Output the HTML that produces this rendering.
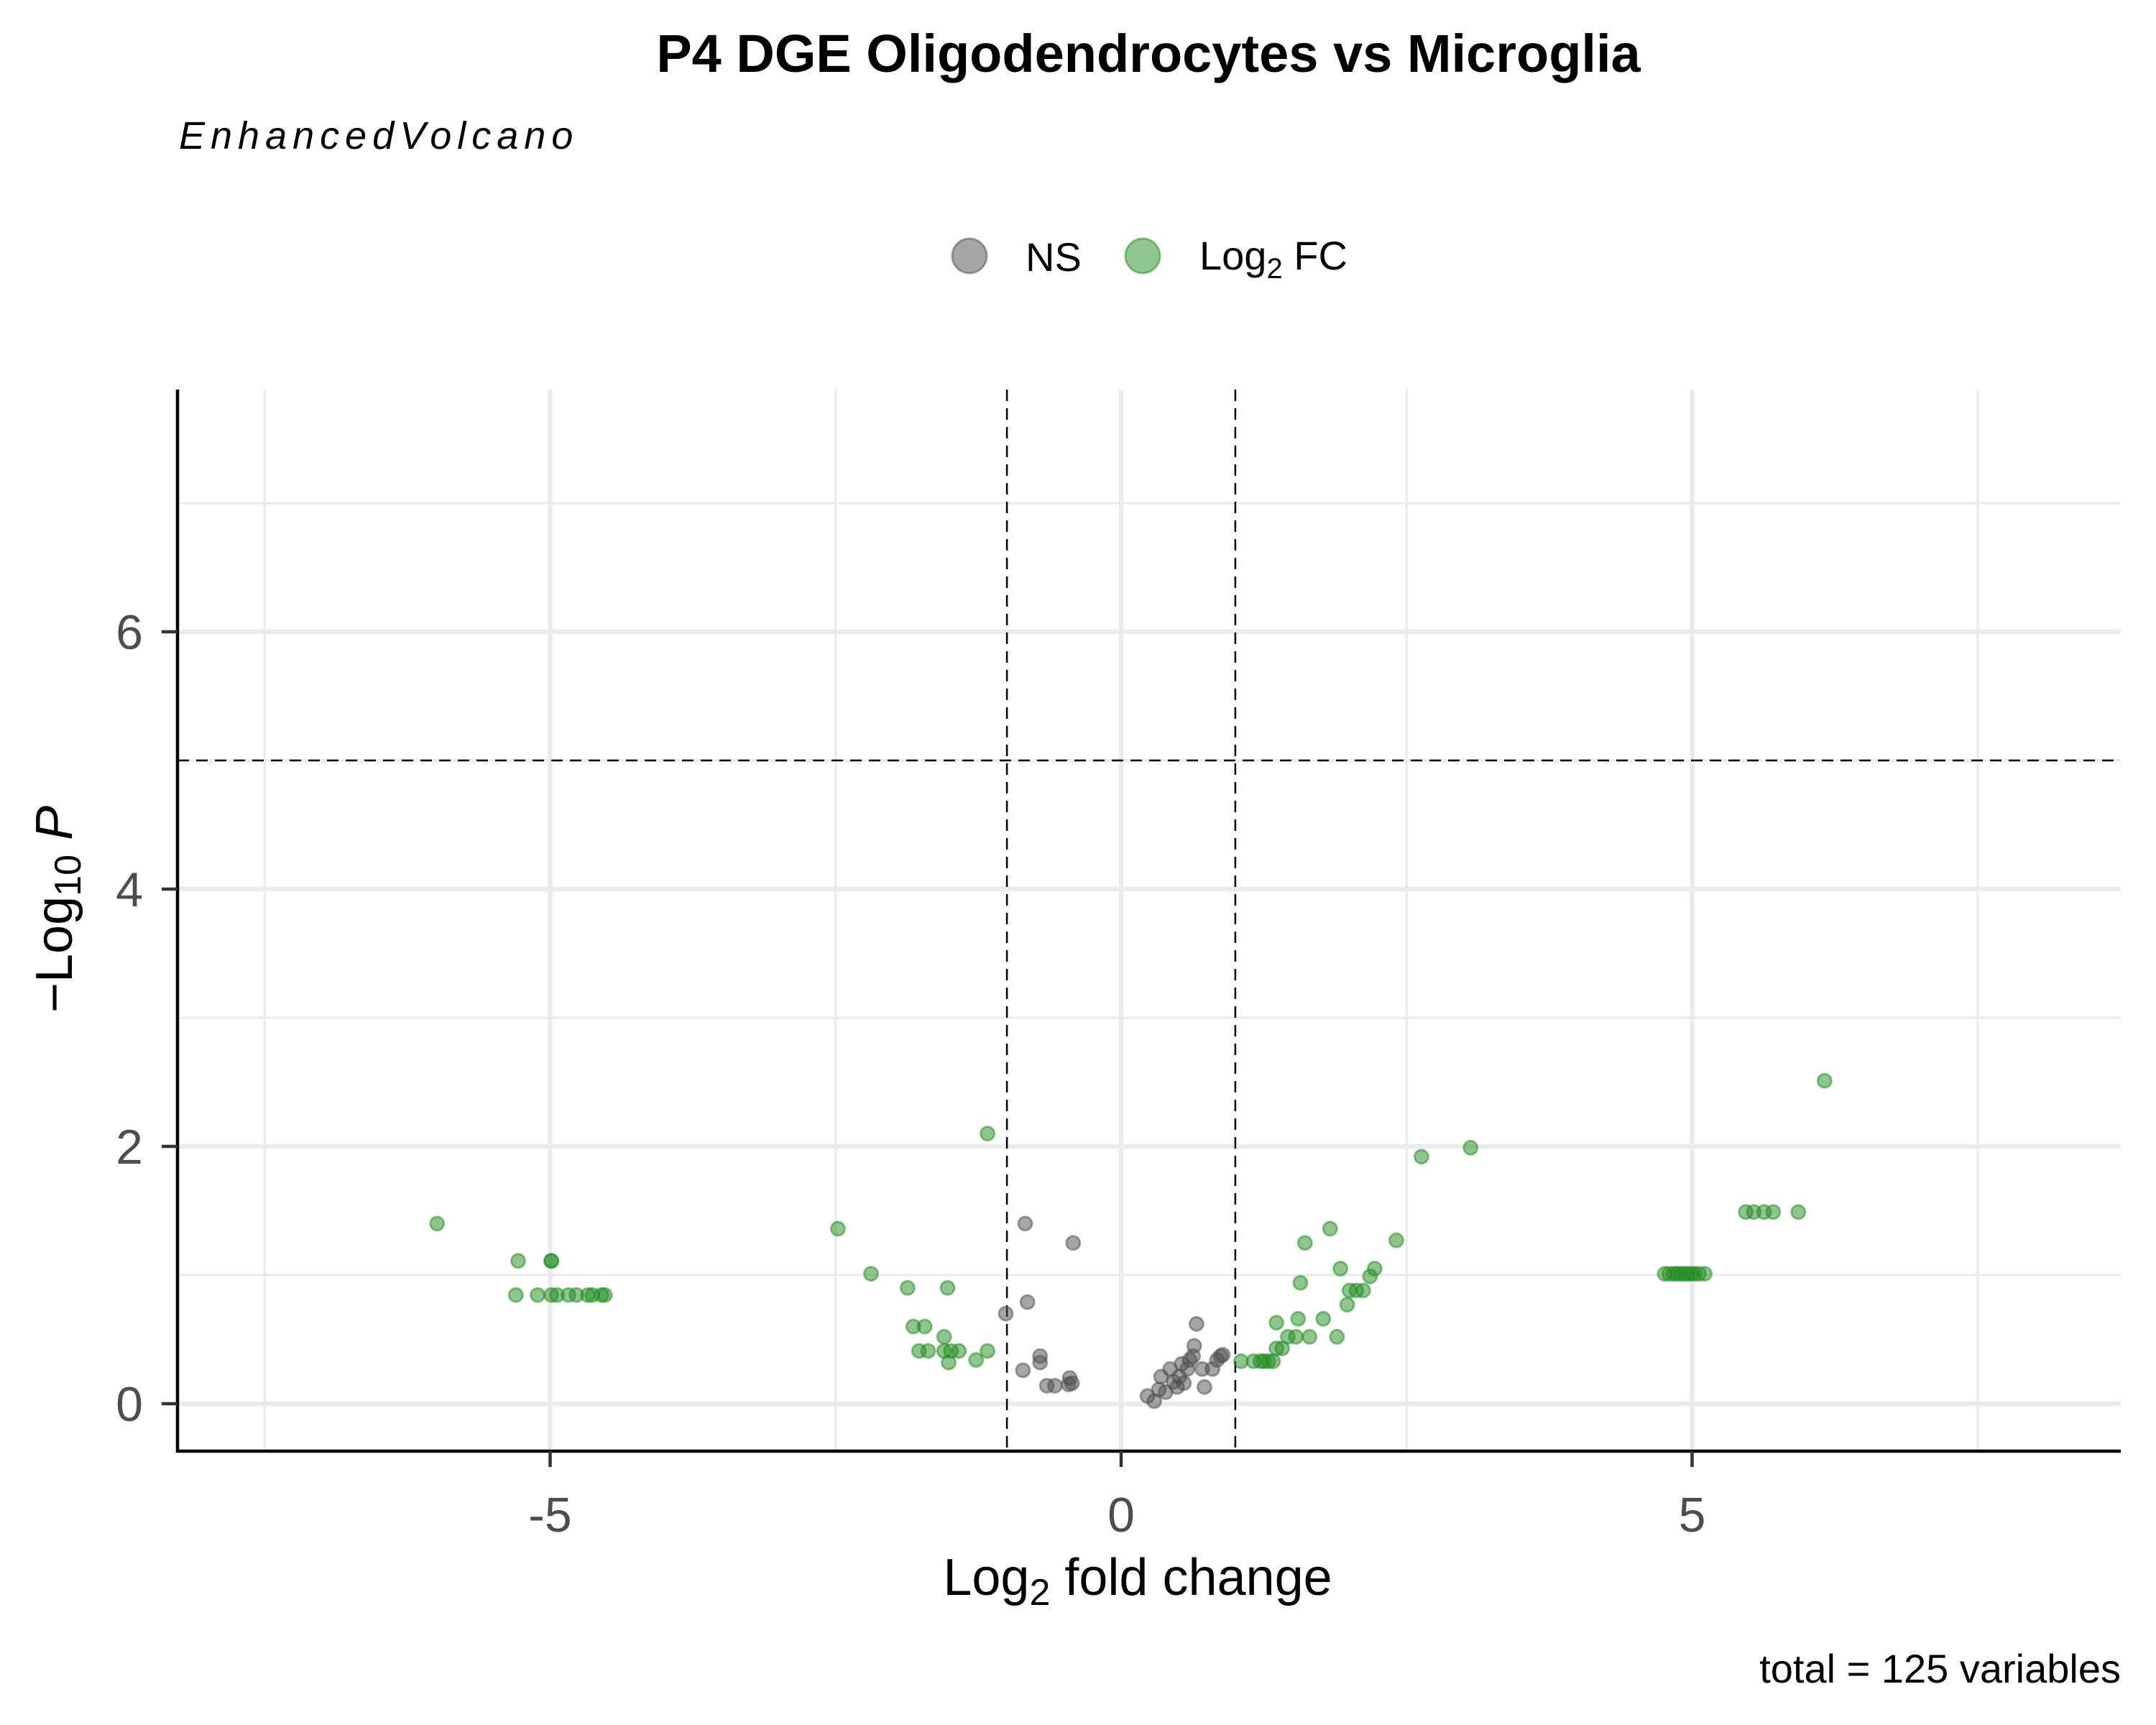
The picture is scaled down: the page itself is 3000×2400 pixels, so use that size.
<!DOCTYPE html>
<html><head><meta charset="utf-8"><style>
html,body{margin:0;padding:0;background:#fff}
svg{display:block;font-family:"Liberation Sans",sans-serif}
</style></head><body>
<svg id="chart" width="3000" height="2400" viewBox="0 0 3000 2400" xmlns="http://www.w3.org/2000/svg">
<rect width="3000" height="2400" fill="#fff"/>
<text x="1598" y="100" text-anchor="middle" font-size="74" font-weight="bold">P4 DGE Oligodendrocytes vs Microglia</text>
<text x="249" y="207" font-size="54" font-style="italic" letter-spacing="8">EnhancedVolcano</text>
<g>
<circle cx="1349" cy="356" r="24" fill="rgba(77,77,77,0.5)" stroke="rgba(77,77,77,0.5)" stroke-width="3"/>
<text x="1427" y="377" font-size="56">NS</text>
<circle cx="1590" cy="356" r="24" fill="rgba(34,139,34,0.5)" stroke="rgba(34,139,34,0.5)" stroke-width="3"/>
<text x="1669" y="375" font-size="56">Log<tspan font-size="40" dy="12">2</tspan><tspan dy="-12"> FC</tspan></text>
</g>
<g id="grid"></g>
<g id="thresholds"></g>
<g id="points"></g>
<g id="axes"></g>
<text transform="translate(100,1265) rotate(-90)" text-anchor="middle" font-size="72">−Log<tspan font-size="52" dy="12">10</tspan><tspan dy="-12" font-style="italic"> P</tspan></text>
<text x="1583" y="2219" text-anchor="middle" font-size="72">Log<tspan font-size="52" dy="14">2</tspan><tspan dy="-14"> fold change</tspan></text>
<text x="2951" y="2341" text-anchor="end" font-size="56">total = 125 variables</text>
</svg>
<script>
const xMajor = [-5, 0, 5];
const xMinor = [-7.5, -2.5, 2.5, 7.5];
const yMajor = [0, 2, 4, 6];
const yMinor = [1, 3, 5, 7];
const xTickLabels = ["-5", "0", "5"];
const yTickLabels = ["0", "2", "4", "6"];
const fcCut = [-1, 1];
const pCut = [5];
const nsX = [-0.84,-0.42,-0.82,-1.01,-0.71,-0.71,-0.86,-0.65,-0.58,-0.45,-0.43,-0.46,0.23,0.29,0.33,0.35,0.39,0.43,0.46,0.49,0.51,0.53,0.55,0.58,0.60,0.63,0.64,0.66,0.71,0.73,0.80,0.84,0.87,0.89];
const nsY = [1.40,1.25,0.79,0.70,0.37,0.32,0.26,0.14,0.14,0.20,0.16,0.15,0.06,0.02,0.11,0.21,0.09,0.27,0.17,0.13,0.21,0.31,0.16,0.27,0.34,0.37,0.45,0.62,0.27,0.13,0.27,0.34,0.37,0.38];
const fcX = [-5.99,-5.28,-4.99,-4.99,-5.30,-5.11,-4.99,-4.94,-4.84,-4.77,-4.67,-4.63,-4.55,-4.52,-2.48,-2.19,-1.87,-1.52,-1.82,-1.72,-1.55,-1.77,-1.69,-1.55,-1.49,-1.42,-1.51,-1.27,-1.17,-1.17,
 1.05,1.16,1.22,1.25,1.29,1.33,1.36,1.41,1.36,1.55,1.46,1.53,1.65,1.77,1.89,1.57,1.61,1.83,1.92,1.98,2.00,2.06,2.12,2.18,2.22,2.41,2.63,3.06,
 4.76,4.80,4.84,4.87,4.90,4.93,4.96,4.99,5.02,5.06,5.11,5.47,5.54,5.63,5.71,5.93,6.16];
const fcY = [1.40,1.11,1.11,1.11,0.845,0.845,0.845,0.845,0.845,0.845,0.845,0.845,0.845,0.845,1.36,1.01,0.90,0.90,0.60,0.60,0.52,0.41,0.41,0.41,0.41,0.41,0.32,0.34,0.41,2.10,
 0.33,0.33,0.33,0.33,0.33,0.33,0.43,0.43,0.63,0.66,0.52,0.52,0.52,0.66,0.52,0.94,1.25,1.36,1.05,0.77,0.88,0.88,0.88,0.99,1.05,1.27,1.92,1.99,
 1.01,1.01,1.01,1.01,1.01,1.01,1.01,1.01,1.01,1.01,1.01,1.49,1.49,1.49,1.49,1.49,2.51];

const L=247,R=2951,T=542,B=2019;
const X=v=>1560+v*158.9;
const Y=v=>1953-v*179;
const NS="http://www.w3.org/2000/svg";
function mk(tag,attrs,parent){const e=document.createElementNS(NS,tag);for(const k in attrs)e.setAttribute(k,attrs[k]);parent.appendChild(e);return e;}
const grid=document.getElementById('grid');
xMinor.forEach(v=>{const e=mk('line',{x1:X(v),x2:X(v),y1:T,y2:B,stroke:'#ebebeb','stroke-width':3.5},grid);

});
yMinor.forEach(v=>{const e=mk('line',{x1:L,x2:R,y1:Y(v),y2:Y(v),stroke:'#ebebeb','stroke-width':3.5},grid);

});
xMajor.forEach(v=>{const e=mk('line',{x1:X(v),x2:X(v),y1:T,y2:B,stroke:'#ebebeb','stroke-width':6.5},grid);

});
yMajor.forEach(v=>{const e=mk('line',{x1:L,x2:R,y1:Y(v),y2:Y(v),stroke:'#ebebeb','stroke-width':6.5},grid);

});
const th=document.getElementById('thresholds');
fcCut.forEach(v=>{const e=mk('line',{x1:X(v),x2:X(v),y1:T,y2:B,stroke:'#000','stroke-width':2.5,'stroke-dasharray':'16 10'},th);

});
pCut.forEach(v=>{const e=mk('line',{x1:L,x2:R,y1:Y(v),y2:Y(v),stroke:'#000','stroke-width':2.5,'stroke-dasharray':'16 10'},th);

});
const pts=document.getElementById('points');
nsX.forEach((v,i)=>{const e=mk('circle',{cx:X(v),cy:Y(nsY[i]),r:9.5,fill:'rgba(77,77,77,0.5)',stroke:'rgba(77,77,77,0.5)','stroke-width':3},pts);

});
fcX.forEach((v,i)=>{const e=mk('circle',{cx:X(v),cy:Y(fcY[i]),r:9.5,fill:'rgba(34,139,34,0.5)',stroke:'rgba(34,139,34,0.5)','stroke-width':3},pts);

});
const ax=document.getElementById('axes');
let e=mk('line',{x1:L,x2:L,y1:T,y2:B+2,stroke:'#000','stroke-width':4.5},ax);


e=mk('line',{x1:L-2,x2:R,y1:B,y2:B,stroke:'#000','stroke-width':4.5},ax);


xMajor.forEach((v,i)=>{
 const t=mk('line',{x1:X(v),x2:X(v),y1:B,y2:B+22,stroke:'#333','stroke-width':4.5},ax);
 
 
 const l=mk('text',{x:X(v),y:B+112,'text-anchor':'middle','font-size':68,fill:'#4d4d4d'},ax);
 l.textContent=xTickLabels[i];
 
 
});
yMajor.forEach((v,i)=>{
 const t=mk('line',{x1:L-22,x2:L,y1:Y(v),y2:Y(v),stroke:'#333','stroke-width':4.5},ax);
 
 
 const l=mk('text',{x:L-48,y:Y(v)+24,'text-anchor':'end','font-size':68,fill:'#4d4d4d'},ax);
 l.textContent=yTickLabels[i];
 
 
});
</script>
</body></html>
